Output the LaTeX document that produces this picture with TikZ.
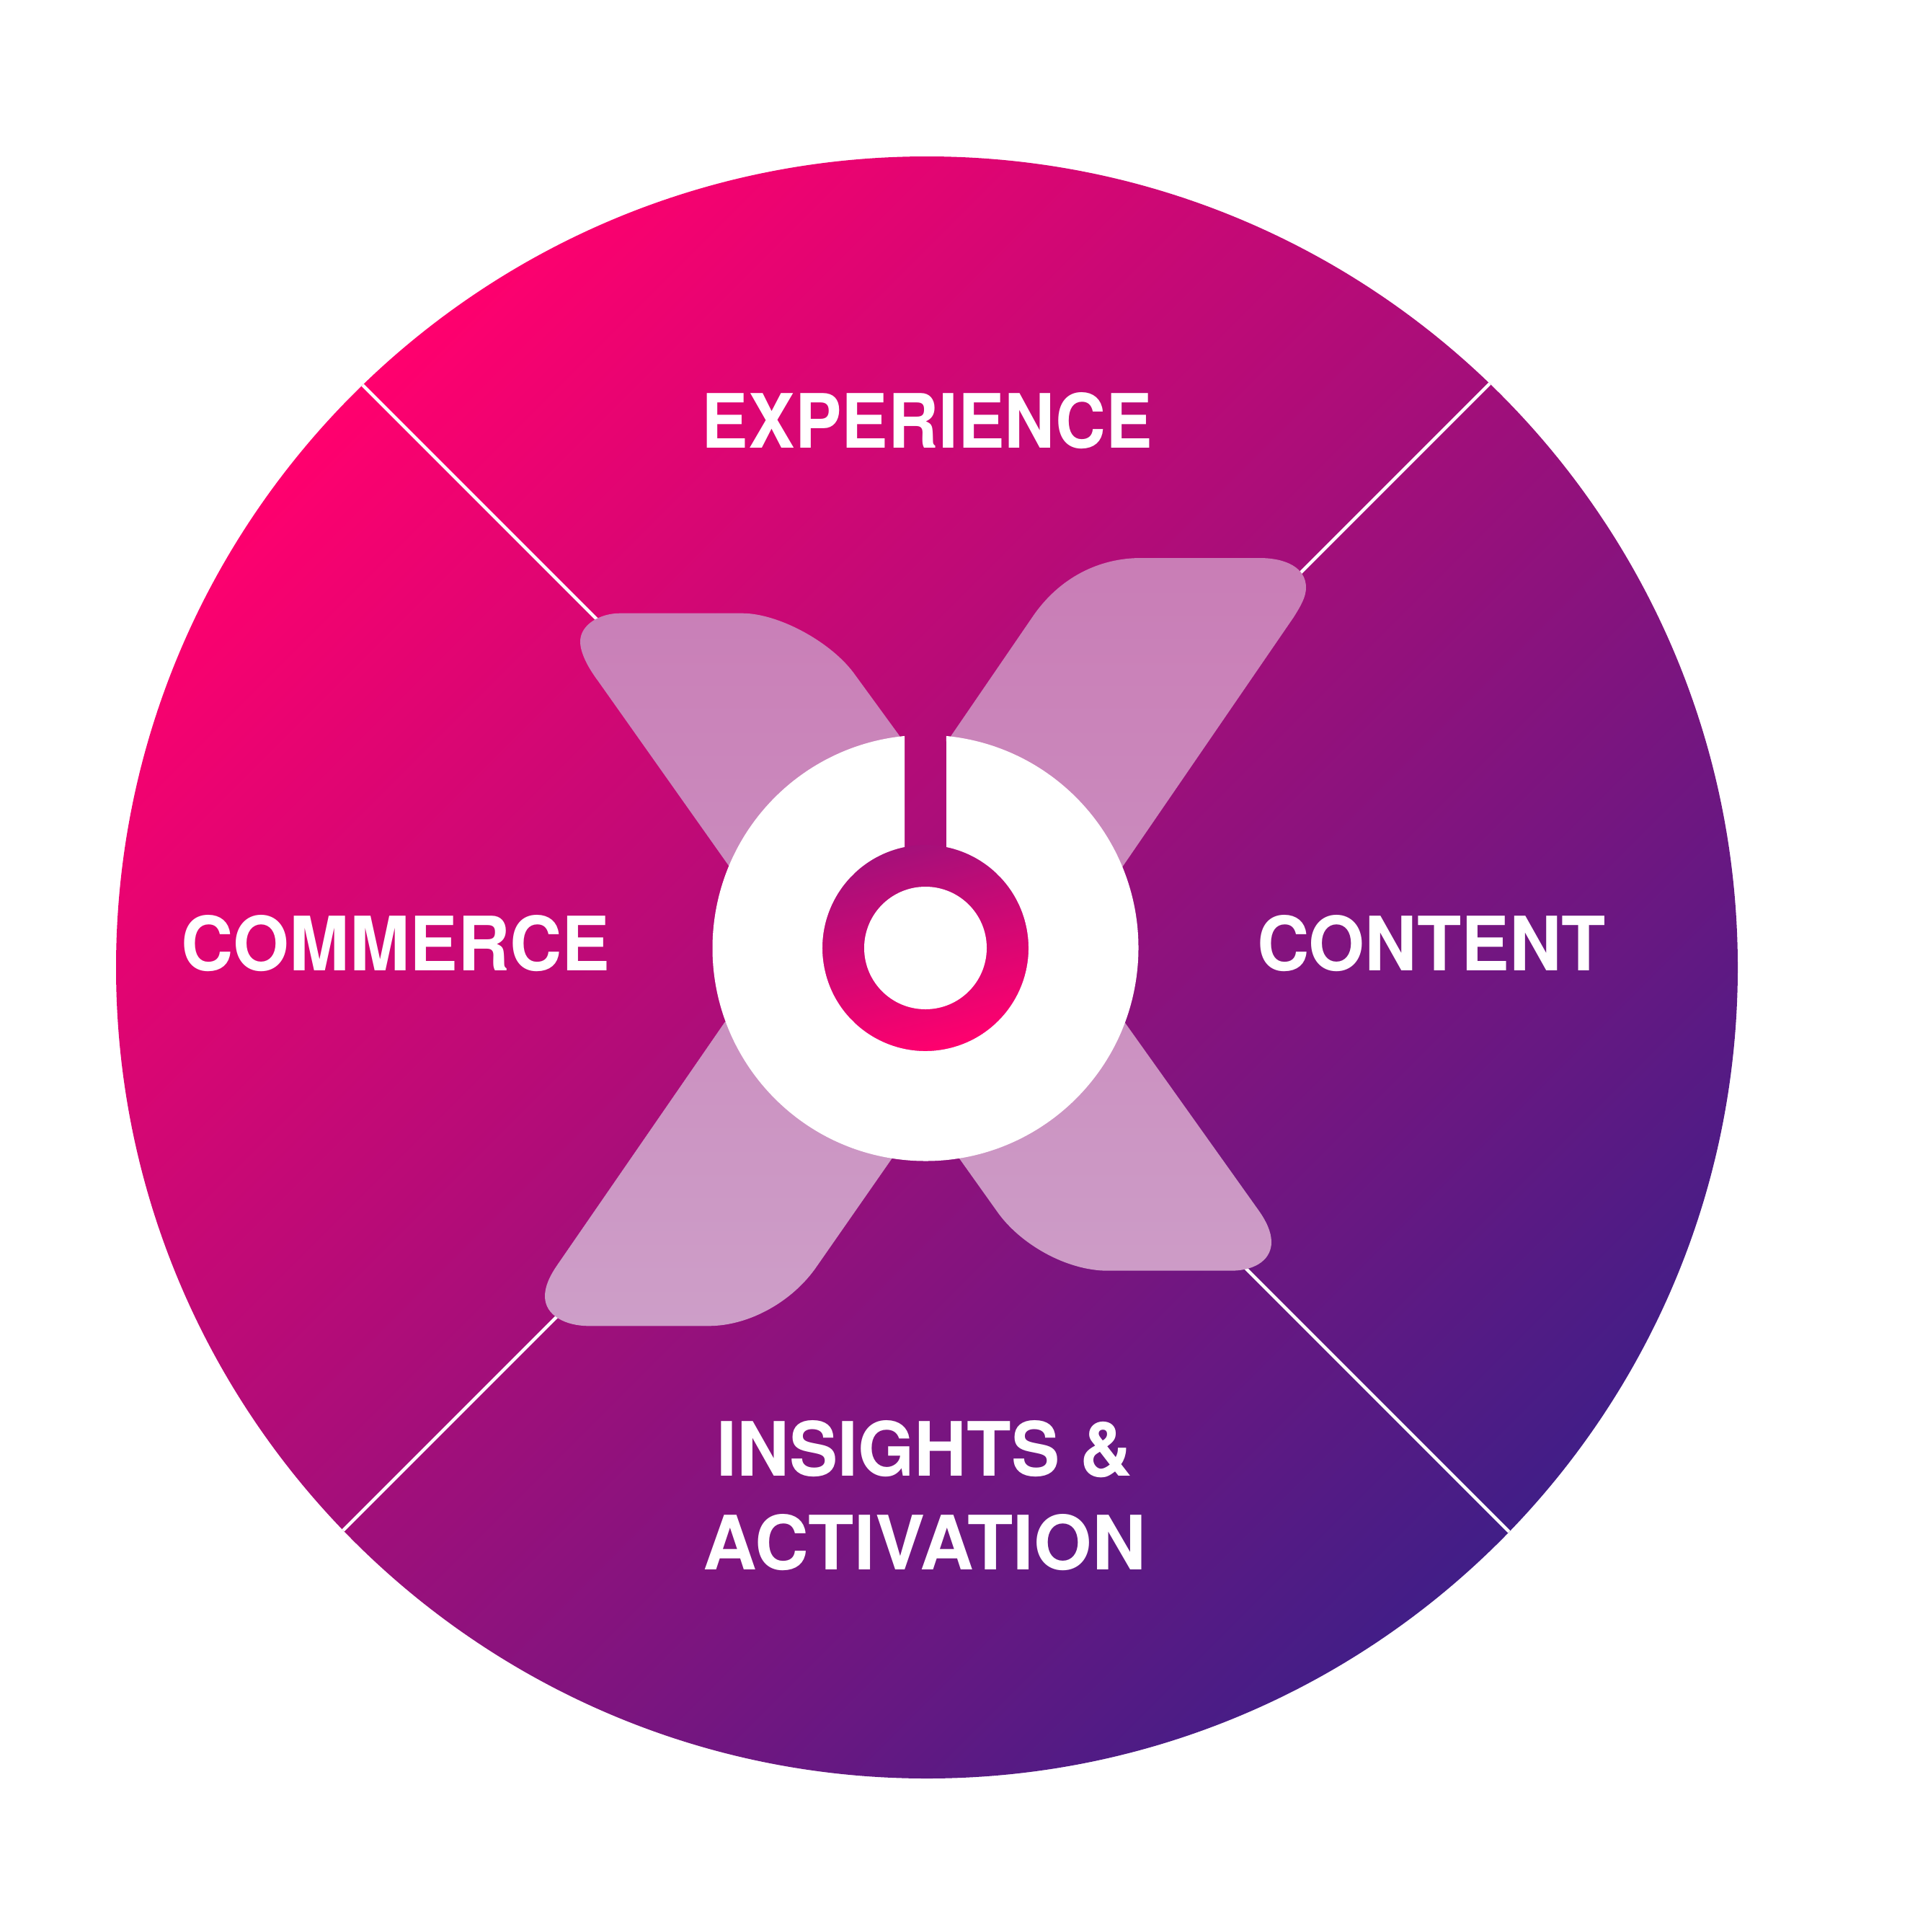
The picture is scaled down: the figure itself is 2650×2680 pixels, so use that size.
\documentclass[tikz,border=0pt]{standalone}
\usepackage{fontspec}
\usepackage{graphicx}
\setmainfont{TeX Gyre Heros}
\definecolor{bgpink}{HTML}{FF006E}
\definecolor{bgblue}{HTML}{3A1F88}
\definecolor{xtop}{HTML}{C97DB6}
\definecolor{xbot}{HTML}{CD9EC8}
\definecolor{ringtop}{HTML}{A5107A}
\pgfdeclarehorizontalshading{bgshade}{100bp}{color(0bp)=(bgpink); color(25bp)=(bgpink); color(77bp)=(bgblue); color(100bp)=(bgblue)}
\newcommand{\lab}[2]{\resizebox{#1pt}{\height}{#2}}
\tikzset{
  label text/.style={text=white,font=\fontsize{104}{129.3}\selectfont\bfseries,inner sep=0pt,outer sep=0pt,anchor=base,align=center},
  spoke/.style={draw=white,line width=4.5pt}
}
\begin{document}
\begin{tikzpicture}[x=1pt,y=1pt]
\useasboundingbox (0,0) rectangle (2650,-2680);
% big disc
\shade[shading=bgshade,shading angle=-45] (1286,-1342) circle[radius=1125];
% spokes
\coordinate (tl) at (503.1,-534.1);
\coordinate (br) at (2093.9,-2124.9);
\coordinate (tr) at (2066.9,-532.1);
\coordinate (bl) at (476.1,-2122.9);
\draw[spoke] (tl) -- (br);
\draw[spoke] (tr) -- (bl);
% X arms
\shade[top color=xtop,bottom color=xbot]
  % upper left
  (860,-850.7) -- (1030,-850.7)
    .. controls (1080,-850.7) and (1155,-891) .. (1187,-937)
    -- (1247.5,-1020) -- (1252,-1027) -- (1240,-1100) -- (1034,-1234) -- (1010.4,-1200)
    -- (830,-945)
    .. controls (815,-925) and (805,-905) .. (805,-890)
    .. controls (805,-866) and (833,-850.7) .. (860,-850.7) -- cycle
  % upper right
  (1583,-774) -- (1747,-774)
    .. controls (1785,-774) and (1812,-788) .. (1812,-815)
    .. controls (1812,-828) and (1805,-840) .. (1795,-856)
    -- (1557.6,-1202) -- (1534,-1235) -- (1330,-1100) -- (1316,-1026) -- (1320,-1020)
    -- (1433,-855)
    .. controls (1470,-801) and (1525,-774) .. (1583,-774) -- cycle
  % lower left
  (817,-1839.3) -- (983,-1839.3)
    .. controls (1040,-1839.3) and (1100,-1805) .. (1133,-1757)
    -- (1237.7,-1606.7) -- (1230,-1560) -- (1030,-1400) -- (1005.5,-1418)
    -- (773,-1755)
    .. controls (762,-1771) and (756,-1785) .. (756,-1798)
    .. controls (756,-1825) and (785,-1839.3) .. (817,-1839.3) -- cycle
  % lower right
  (1537,-1762.7) -- (1707,-1762.7)
    .. controls (1745,-1762.7) and (1764,-1745) .. (1764,-1723)
    .. controls (1764,-1708) and (1756,-1693) .. (1747,-1680)
    -- (1560.4,-1418) -- (1530,-1400) -- (1340,-1560) -- (1330.3,-1606)
    -- (1383,-1680)
    .. controls (1415,-1726) and (1480,-1762.7) .. (1537,-1762.7) -- cycle;
% centre
\shade[top color=ringtop,bottom color=bgpink,shading angle=15] (1284,-1315) circle[radius=143];
\begin{scope}[shift={(1284,-1315)}]
\fill[white] (84.37:295.5) arc[start angle=84.37,end angle=-264.37,radius=295.5]
  -- (101.7:143) arc[start angle=101.7,end angle=438.3,radius=143] -- cycle;
\fill[white] (0,0) circle[radius=85];
\end{scope}
% labels
\node[label text] (experience) at (1286.5,-621) {\lab{625}{EXPERIENCE}};
\node[label text] (content) at (1986,-1346) {\lab{484}{CONTENT}};
\node[label text] (commerce) at (549,-1346) {\lab{594}{COMMERCE}};
\node[label text] (insights) at (1283,-2177) {\lab{577}{INSIGHTS \&}\\\lab{614}{ACTIVATION}};
\end{tikzpicture}
\end{document}
